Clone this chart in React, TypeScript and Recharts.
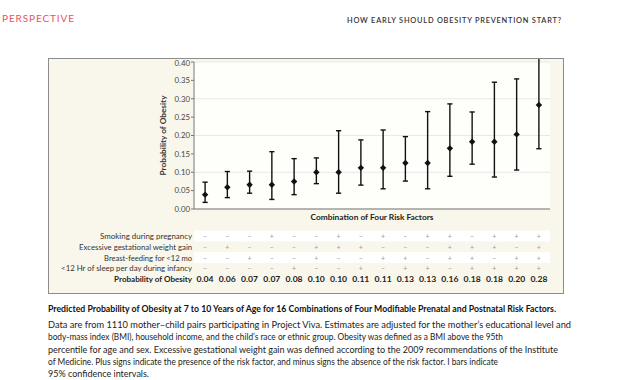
import React from 'react';
import { ComposedChart, Scatter, ErrorBar, XAxis, YAxis, CartesianGrid } from 'recharts';

// 16 combinations of the four risk factors, ordered by predicted probability
const combos = ['1', '2', '3', '4', '5', '6', '7', '8', '9', '10', '11', '12', '13', '14', '15', '16'];
const probability = [0.039, 0.059, 0.066, 0.066, 0.075, 0.1, 0.1, 0.112, 0.112, 0.125, 0.125, 0.165, 0.183, 0.183, 0.203, 0.283];
const lower = [0.018, 0.031, 0.043, 0.026, 0.039, 0.069, 0.043, 0.065, 0.055, 0.076, 0.055, 0.089, 0.122, 0.087, 0.106, 0.164];
const upper = [0.073, 0.102, 0.103, 0.156, 0.137, 0.139, 0.213, 0.188, 0.215, 0.197, 0.265, 0.286, 0.264, 0.345, 0.354, 0.42];
const probLabels = ['0.04', '0.06', '0.07', '0.07', '0.08', '0.10', '0.10', '0.11', '0.11', '0.13', '0.13', '0.16', '0.18', '0.18', '0.20', '0.28'];

const smoking = ['-', '-', '-', '+', '-', '-', '+', '-', '+', '-', '+', '+', '-', '+', '+', '+'];
const weightGain = ['-', '+', '-', '-', '-', '+', '+', '+', '-', '-', '-', '+', '+', '+', '-', '+'];
const breastFeeding = ['-', '-', '+', '-', '-', '+', '-', '-', '+', '+', '-', '+', '+', '-', '+', '+'];
const sleep = ['-', '-', '-', '-', '+', '-', '-', '+', '-', '+', '+', '-', '+', '+', '+', '+'];

const rowNames = [
  'Smoking during pregnancy',
  'Excessive gestational weight gain',
  'Breast-feeding for <12 mo',
  '<12 Hr of sleep per day during infancy',
];
const rowNameWidths = [92, 113, 88, 131];
const rows = [smoking, weightGain, breastFeeding, sleep];

const yTicks = [0, 0.05, 0.1, 0.15, 0.2, 0.25, 0.3, 0.35, 0.4];

const captionTitle =
  'Predicted Probability of Obesity at 7 to 10 Years of Age for 16 Combinations of Four Modifiable Prenatal and Postnatal Risk Factors.';
const captionLines = [
  "Data are from 1110 mother\u2013child pairs participating in Project Viva. Estimates are adjusted for the mother\u2019s educational level and",
  "body-mass index (BMI), household income, and the child\u2019s race or ethnic group. Obesity was defined as a BMI above the 95th",
  'percentile for age and sex. Excessive gestational weight gain was defined according to the 2009 recommendations of the Institute',
  'of Medicine. Plus signs indicate the presence of the risk factor, and minus signs the absence of the risk factor. I bars indicate',
  '95% confidence intervals.',
];
const captionWidths = [523, 455, 510, 450, 101];

const data = combos.map((c, i) => ({
  combo: c,
  p: probability[i],
  ci: [probability[i] - lower[i], upper[i] - probability[i]],
}));

const FONT = 'Lato, "Open Sans", sans-serif';
const ROW_Y = [27, 37.8, 48.6, 59.4, 70.4];

const TableTick = (props: any) => {
  const { x, y, payload } = props;
  const i = payload.index;
  return (
    <g>
      {i === 0 && (
        <g>
          <text x={x - 11.1 + 178} y={y + 8} textAnchor="middle" dominantBaseline="central" fontSize={7.8}
            fontWeight="bold" fill="#222" fontFamily={FONT} textLength={123} lengthAdjust="spacingAndGlyphs">
            Combination of Four Risk Factors
          </text>
          <rect x={x - 11.1} y={y + ROW_Y[0] - 5.4} width={356} height={10.8} fill="#ffffff" />
          <rect x={x - 11.1} y={y + ROW_Y[2] - 5.4} width={356} height={10.8} fill="#ffffff" />
          {rowNames.map((name, r) => (
            <text key={name} x={x - 13} y={y + ROW_Y[r]} textAnchor="end" dominantBaseline="central"
              fontSize={7.6} fill="#333" fontFamily={FONT}
              textLength={rowNameWidths[r]} lengthAdjust="spacingAndGlyphs">{name}</text>
          ))}
          <text x={x - 13} y={y + ROW_Y[4]} textAnchor="end" dominantBaseline="central"
            fontSize={7.6} fontWeight="bold" fill="#222" fontFamily={FONT}
            textLength={78} lengthAdjust="spacingAndGlyphs">Probability of Obesity</text>
        </g>
      )}
      {rows.map((row, r) => (
        <text key={r} x={x} y={y + ROW_Y[r]} textAnchor="middle" dominantBaseline="central"
          fontSize={7} fill="#999" fontFamily={FONT}>{row[i] === '+' ? '+' : '\u2013'}</text>
      ))}
      <text x={x} y={y + ROW_Y[4]} textAnchor="middle" dominantBaseline="central"
        fontSize={7.6} fontWeight="bold" fill="#222" fontFamily={FONT}
        textLength={17} lengthAdjust="spacingAndGlyphs">{probLabels[i]}</text>
    </g>
  );
};

const Diamond = (props: any) => {
  const { cx, cy } = props;
  if (cx == null || cy == null) return <g />;
  const r = 3.2;
  return <polygon points={`${cx},${cy - r} ${cx + r},${cy} ${cx},${cy + r} ${cx - r},${cy}`} fill="#111" />;
};

const YLabel = (props: any) => {
  const { viewBox } = props;
  const cx = viewBox.x + viewBox.width - 31;
  const cy = viewBox.y + viewBox.height / 2;
  return (
    <text x={cx} y={cy} transform={`rotate(-90 ${cx} ${cy})`} textAnchor="middle" dominantBaseline="central"
      fontSize={7.6} fontWeight="bold" fill="#333" fontFamily={FONT}
      textLength={80} lengthAdjust="spacingAndGlyphs">Probability of Obesity</text>
  );
};

export default function App() {
  return (
    <div style={{ position: 'absolute', left: 0, top: 0, width: 619, height: 380, background: '#fff', fontFamily: FONT }}>
      <svg width={619} height={40} style={{ position: 'absolute', left: 0, top: 0 }}>
        <text x={2} y={18} dominantBaseline="central" fontSize={10} fill="#e8525b" fontFamily={FONT}
          textLength={72} lengthAdjust="spacing">PERSPECTIVE</text>
        <text x={347} y={20} dominantBaseline="central" fontSize={7.4} fill="#333" fontFamily={FONT}
          textLength={214} lengthAdjust="spacing" fontWeight={600}>HOW EARLY SHOULD OBESITY PREVENTION START?</text>
      </svg>
      <div style={{ position: 'absolute', left: 48, top: 58, width: 516, height: 236, background: '#f9f7eb', boxSizing: 'border-box', border: '1.5px solid #8c8c8c' }}>
        <ComposedChart width={513} height={233} data={data} margin={{ top: 3, right: 12, left: 0, bottom: 0 }}>
          <CartesianGrid vertical={false} stroke="#e8e8e6" fill="#fefefb" />
          <XAxis dataKey="combo" type="category" scale="point" padding={{ left: 11.1, right: 11.1 }}
            interval={0} height={83} tickLine={false} tickSize={0} tickMargin={0}
            axisLine={{ stroke: '#777' }} tick={<TableTick />} />
          <YAxis type="number" domain={[0, 0.4]} ticks={yTicks} allowDataOverflow width={145}
            tickFormatter={(v: number) => v.toFixed(2)} tickSize={3} tickMargin={1}
            axisLine={{ stroke: '#777' }} tickLine={{ stroke: '#777' }}
            tick={{ fontSize: 7.8, fill: '#444', fontFamily: FONT }} label={<YLabel />} />
          <Scatter dataKey="p" fill="#111" shape={<Diamond />} isAnimationActive={false}>
            <ErrorBar dataKey="ci" direction="y" width={2.6} stroke="#111" strokeWidth={1.4} isAnimationActive={false} />
          </Scatter>
        </ComposedChart>
      </div>
      <svg width={619} height={85} style={{ position: 'absolute', left: 0, top: 295 }}>
        <text x={48} y={14} dominantBaseline="central" fontSize={8.6} fontWeight="bold" fill="#111" fontFamily={FONT}
          textLength={508} lengthAdjust="spacingAndGlyphs">{captionTitle}</text>
        {captionLines.map((line, i) => (
          <text key={i} x={48} y={29.5 + i * 12.3} dominantBaseline="central" fontSize={8.8} fill="#222" fontFamily={FONT}
            textLength={captionWidths[i]} lengthAdjust="spacingAndGlyphs">{line}</text>
        ))}
      </svg>
    </div>
  );
}
